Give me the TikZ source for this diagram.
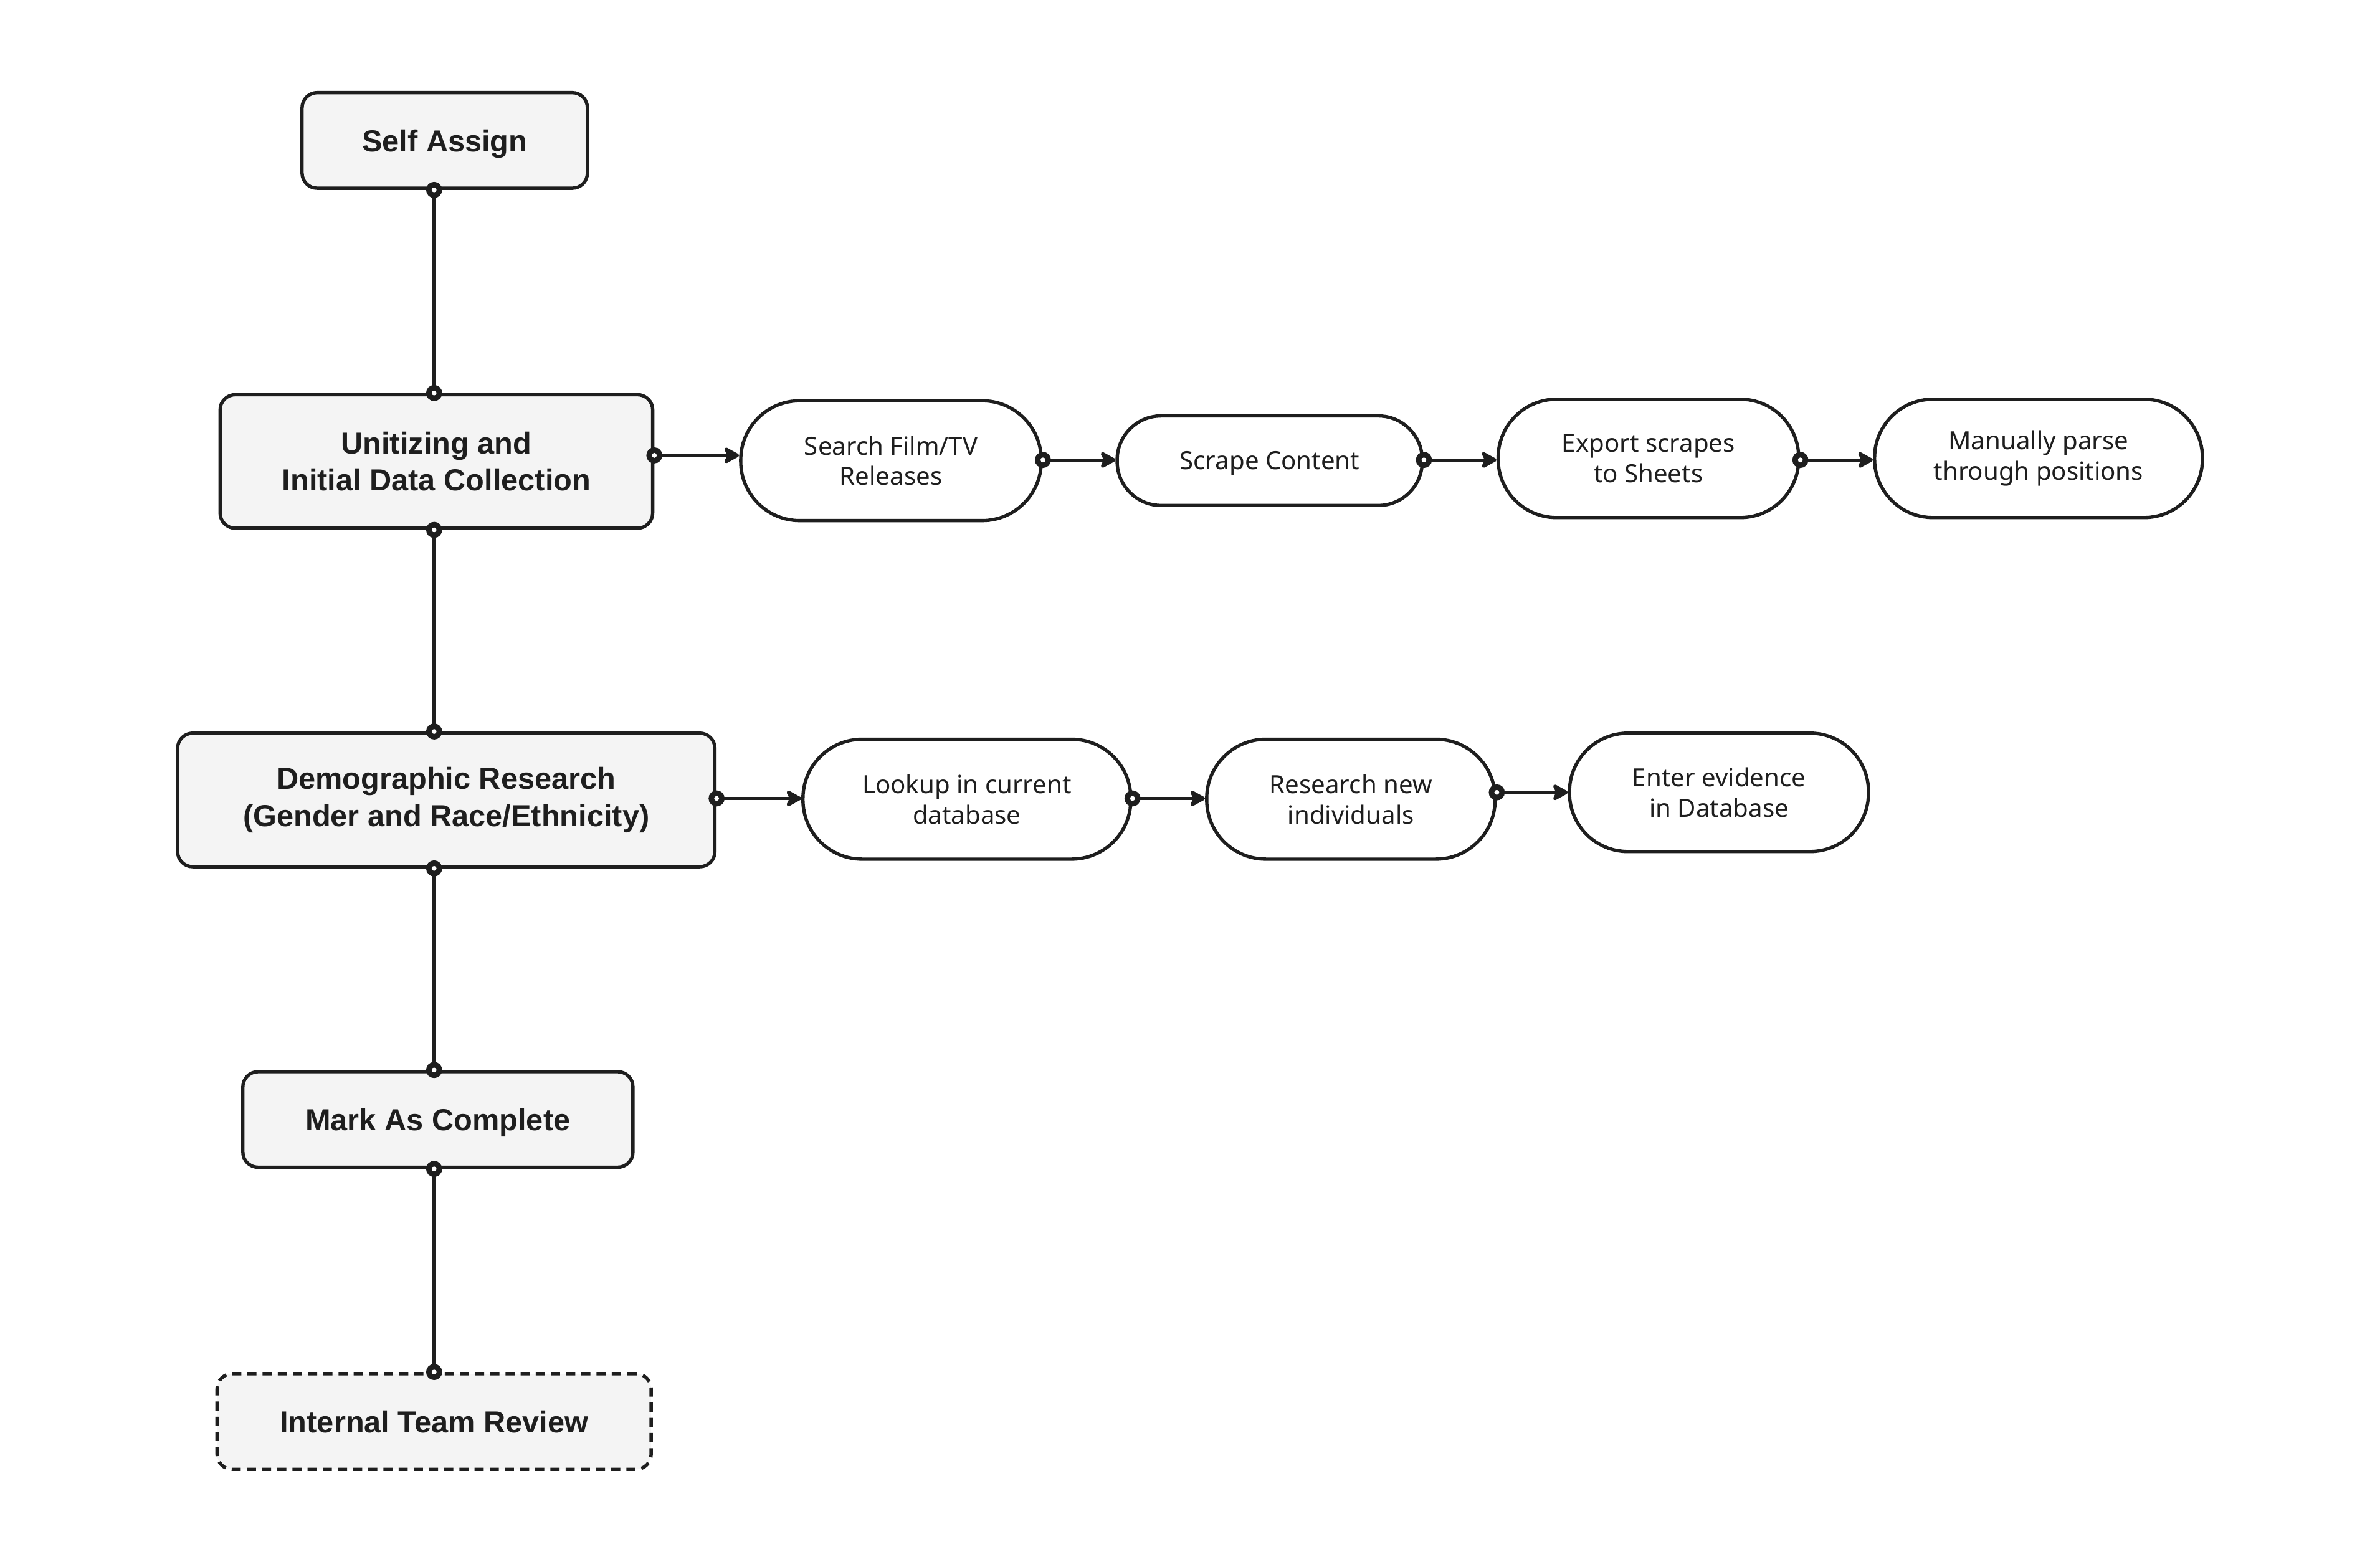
\documentclass[tikz,border=0pt]{standalone}
\usepackage{fontspec}
\setmainfont{Noto Sans}
\newfontfamily\boldfam{Liberation Sans}
\usetikzlibrary{arrows.meta}
\definecolor{ink}{HTML}{1E1E1E}
\definecolor{boxfill}{HTML}{F4F4F4}
\newcommand\conndot[1]{\fill[ink] (#1) circle (5.3pt); \fill[white] (#1) circle (1.6pt);}
\begin{document}
\begin{tikzpicture}[x=1pt,y=-1pt,
  mainbox/.style={draw=ink, line width=2.2pt, fill=boxfill, rounded corners=10pt,
    font=\fontsize{20}{24.5}\selectfont\boldfam\bfseries, text=ink, align=center, inner sep=0pt},
  pill/.style={draw=ink, line width=2.2pt, fill=white,
    font=\fontsize{16.5}{20}\selectfont, text=ink, align=center, inner sep=0pt},
  oneline/.style={text depth=0pt},
  vline/.style={draw=ink, line width=2.2pt},
  arr/.style={draw=ink, line width=2.2pt, -{Stealth[length=12pt,width=13pt,inset=3pt,round]}}]
\useasboundingbox (0,0) rectangle (1568,1029);
\coordinate (vx) at (286,0);
% main column
\node[mainbox, oneline, minimum width=188, minimum height=63] (sa) at (293,92.5) {Self Assign};
\node[mainbox, minimum width=285, minimum height=88] (uc) at (287.5,304) {Unitizing and\\Initial Data Collection};
\node[mainbox, minimum width=354, minimum height=88] (dr) at (294,527) {Demographic Research\\(Gender and Race/Ethnicity)};
\node[mainbox, oneline, minimum width=257, minimum height=63] (mc) at (288.5,737.5) {Mark As Complete};
\node[mainbox, oneline, dashed, dash pattern=on 6pt off 4pt, minimum width=286, minimum height=63] (itr) at (286,936.5) {Internal Team Review};
% row 1
\node[pill, minimum width=198, minimum height=79, rounded corners=39pt] (sf) at (587,303.5) {Search Film/TV\\Releases};
\node[pill, oneline, minimum width=201, minimum height=59, rounded corners=29pt] (sc) at (836.5,303.5) {Scrape Content};
\node[pill, minimum width=198, minimum height=78, rounded corners=38.5pt] (es) at (1086,302) {Export scrapes\\to Sheets};
\node[pill, minimum width=216, minimum height=78, rounded corners=38.5pt] (mp) at (1343,302) {Manually parse\\through positions};
% row 2
\node[pill, minimum width=216, minimum height=79, rounded corners=39pt] (lc) at (637,526.5) {Lookup in current\\database};
\node[pill, minimum width=190, minimum height=79, rounded corners=39pt] (rn) at (890,526.5) {Research new\\individuals};
\node[pill, minimum width=197, minimum height=78, rounded corners=38.5pt] (ee) at (1132.5,522) {Enter evidence\\in Database};
% row coordinates
\coordinate (r1a) at (0,300);
\coordinate (r1b) at (0,303);
\coordinate (r2a) at (0,526);
\coordinate (r2b) at (0,522);
% vertical connectors
\draw[vline] (vx |- sa.south) -- (vx |- uc.north);
\draw[vline] (vx |- uc.south) -- (vx |- dr.north);
\draw[vline] (vx |- dr.south) -- (vx |- mc.north);
\draw[vline] (vx |- mc.south) -- (vx |- itr.north);
% horizontal arrows
\draw[arr] (uc.east |- r1a) -- (sf.west |- r1a);
\draw[arr] (sf.east |- r1b) -- (sc.west |- r1b);
\draw[arr] (sc.east |- r1b) -- (es.west |- r1b);
\draw[arr] (es.east |- r1b) -- (mp.west |- r1b);
\draw[arr] (dr.east |- r2a) -- (lc.west |- r2a);
\draw[arr] (lc.east |- r2a) -- (rn.west |- r2a);
\draw[arr] (rn.east |- r2b) -- (ee.west |- r2b);
% connection dots
\conndot{vx |- sa.south}
\conndot{vx |- uc.north}
\conndot{vx |- uc.south}
\conndot{vx |- dr.north}
\conndot{vx |- dr.south}
\conndot{vx |- mc.north}
\conndot{vx |- mc.south}
\conndot{vx |- itr.north}
\conndot{uc.east |- r1a}
\conndot{sf.east |- r1b}
\conndot{sc.east |- r1b}
\conndot{es.east |- r1b}
\conndot{dr.east |- r2a}
\conndot{lc.east |- r2a}
\conndot{rn.east |- r2b}
\end{tikzpicture}
\end{document}
